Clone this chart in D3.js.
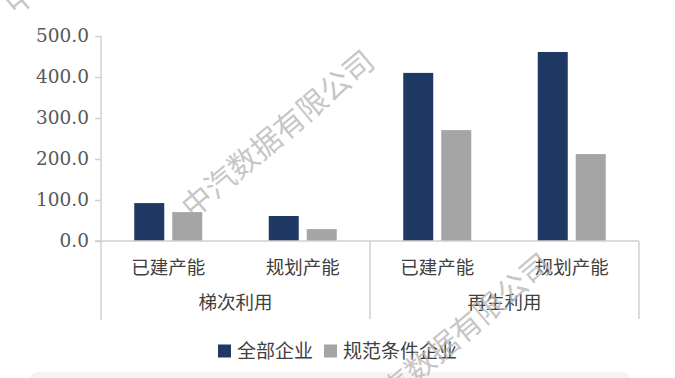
<!DOCTYPE html>
<html>
<head>
<meta charset="utf-8">
<script src="https://cdn.jsdelivr.net/npm/d3@7"></script>
<style>
  html, body { margin: 0; padding: 0; background: #ffffff; }
  svg { display: block; }
</style>
</head>
<body>
<svg id="chart" width="675" height="378"></svg>
<script>
'use strict';

// chart data
var groups = ['梯次利用', '再生利用'];
var categories = ['已建产能', '规划产能'];
var seriesNames = ['全部企业', '规范条件企业'];
var allCompanies = [92.5, 61, 410, 461];     // 全部企业
var standardCompanies = [70.5, 29, 270.5, 212]; // 规范条件企业
var yTicks = [0, 100, 200, 300, 400, 500];
var seriesColors = ['#203864', '#a5a5a5'];
var watermarkText = '中汽数据有限公司';

var svg = d3.select('#chart');
var cjk = '"Noto Sans CJK SC", "Noto Sans", sans-serif';

// flatten groups x categories into one row per band
var rows = [];
groups.forEach(function(g, gi) {
  categories.forEach(function(c, ci) {
    var idx = gi * categories.length + ci;
    rows.push({ key: g + '|' + c, group: g, cat: c, values: [allCompanies[idx], standardCompanies[idx]] });
  });
});

var plot = { left: 101, right: 639, top: 36, bottom: 241 };

var x0 = d3.scaleBand()
  .domain(rows.map(function(d) { return d.key; }))
  .range([plot.left, plot.right])
  .padding(0);

var half = x0.bandwidth() / 2;
var x1 = d3.scaleBand()
  .domain(seriesNames)
  .range([half - 34, half + 34])
  .paddingInner(0.2105)
  .paddingOuter(0);

var y = d3.scaleLinear().domain([0, 500]).range([plot.bottom, plot.top]);

// y axis
var yAxis = svg.append('g')
  .attr('transform', 'translate(' + plot.left + ',0)')
  .call(d3.axisLeft(y).tickValues(yTicks).tickSize(6).tickPadding(6).tickFormat(d3.format('.1f')));
yAxis.select('.domain').attr('stroke', '#d0d0d0').attr('stroke-width', 1.5)
  .attr('d', 'M0,' + plot.top + 'V' + 320);
yAxis.selectAll('.tick line').attr('stroke', '#d0d0d0').attr('stroke-width', 1.5);
yAxis.selectAll('.tick text')
  .attr('fill', '#595959')
  .style('font-family', '"DejaVu Serif", serif')
  .style('font-size', '18.5px');

// bars
var bandG = svg.append('g').selectAll('g')
  .data(rows)
  .join('g')
  .attr('transform', function(d) { return 'translate(' + x0(d.key) + ',0)'; });

bandG.selectAll('rect')
  .data(function(d) { return d.values.map(function(v, i) { return { name: seriesNames[i], value: v, i: i }; }); })
  .join('rect')
  .attr('x', function(d) { return x1(d.name); })
  .attr('y', function(d) { return y(d.value); })
  .attr('width', x1.bandwidth())
  .attr('height', function(d) { return y(0) - y(d.value); })
  .attr('fill', function(d) { return seriesColors[d.i]; });

// category axis baseline
svg.append('line')
  .attr('x1', plot.left - 6).attr('x2', plot.right)
  .attr('y1', plot.bottom).attr('y2', plot.bottom)
  .attr('stroke', '#d0d0d0').attr('stroke-width', 1.5);

// group separators
var sepX = groups.map(function(g) { return x0(g + '|' + categories[0]); }).concat([plot.right]);
svg.append('g').selectAll('line')
  .data(sepX.slice(1))
  .join('line')
  .attr('x1', function(d) { return d; }).attr('x2', function(d) { return d; })
  .attr('y1', plot.bottom).attr('y2', 319)
  .attr('stroke', '#d0d0d0').attr('stroke-width', 1.5);

// category labels
svg.append('g').selectAll('text')
  .data(rows)
  .join('text')
  .attr('x', function(d) { return x0(d.key) + half; })
  .attr('y', 268)
  .attr('dy', '0.35em')
  .attr('text-anchor', 'middle')
  .attr('fill', '#404040')
  .style('font-family', cjk)
  .style('font-size', '18.5px')
  .text(function(d) { return d.cat; });

// group labels
svg.append('g').selectAll('text')
  .data(groups)
  .join('text')
  .attr('x', function(g, i) { return (sepX[i] + sepX[i + 1]) / 2; })
  .attr('y', 303)
  .attr('dy', '0.35em')
  .attr('text-anchor', 'middle')
  .attr('fill', '#404040')
  .style('font-family', cjk)
  .style('font-size', '18.5px')
  .text(function(g) { return g; });

// legend
var legendItems = [
  { name: seriesNames[0], color: seriesColors[0], x: 218 },
  { name: seriesNames[1], color: seriesColors[1], x: 324 }
];
var lg = svg.append('g').selectAll('g')
  .data(legendItems)
  .join('g')
  .attr('transform', function(d) { return 'translate(' + d.x + ',351)'; });
lg.append('rect')
  .attr('x', 0).attr('y', -6.5)
  .attr('width', 13).attr('height', 13)
  .attr('fill', function(d) { return d.color; });
lg.append('text')
  .attr('x', 19).attr('dy', '0.35em')
  .attr('fill', '#404040')
  .style('font-family', cjk)
  .style('font-size', '19px')
  .text(function(d) { return d.name; });

// bottom panel edge
svg.append('rect')
  .attr('x', 30).attr('y', 372)
  .attr('width', 600).attr('height', 20)
  .attr('rx', 8)
  .attr('fill', '#f4f4f4');

// watermark
var wmCenters = [[278, 134], [455, 337], [101, -69]];
svg.append('g').selectAll('text')
  .data(wmCenters)
  .join('text')
  .attr('transform', function(d) { return 'translate(' + d[0] + ',' + d[1] + ') rotate(-40)'; })
  .attr('text-anchor', 'middle')
  .attr('dy', '0.35em')
  .attr('fill', '#b4b4b4')
  .attr('fill-opacity', 0.75)
  .style('font-family', cjk)
  .style('font-size', '30px')
  .text(watermarkText);
</script>
</body>
</html>
